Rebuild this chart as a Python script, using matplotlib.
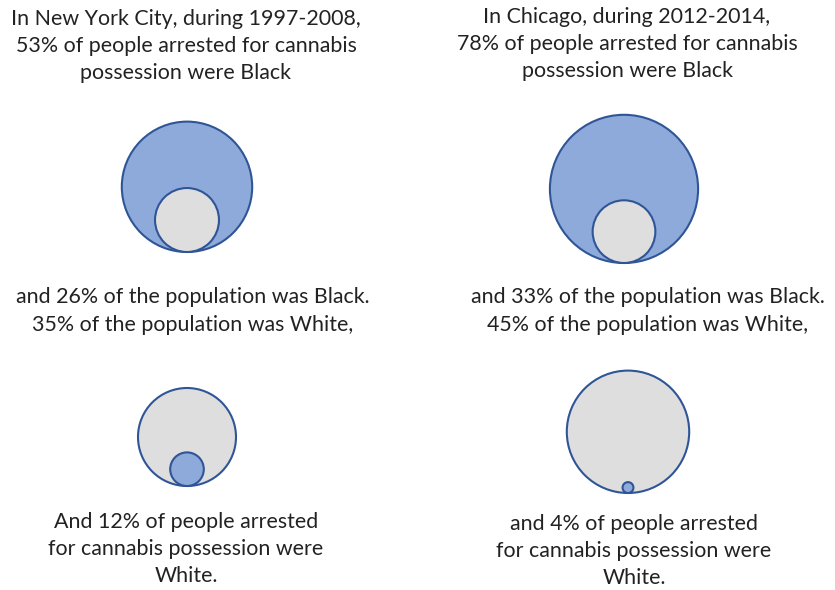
import matplotlib.pyplot as plt
from matplotlib.patches import Circle

plt.rcParams['font.family'] = ['Lato', 'DejaVu Sans']

# percentages shown in each panel: (outer circle, inner circle)
cities = ["New York City", "Chicago"]
black_arrested = [53, 78]
black_population = [26, 33]
white_population = [35, 45]
white_arrested = [12, 4]

titles = [
    "In New York City, during 1997-2008,\n53% of people arrested for cannabis\npossession were Black",
    "In Chicago, during 2012-2014,\n78% of people arrested for cannabis\npossession were Black",
]
middles = [
    "and 26% of the population was Black.\n35% of the population was White,",
    "and 33% of the population was Black.\n45% of the population was White,",
]
bottoms = [
    "And 12% of people arrested\nfor cannabis possession were\nWhite.",
    "and 4% of people arrested\nfor cannabis possession were\nWhite.",
]

BLUE = "#8eaadb"
GRAY = "#dedede"
EDGE = "#2f5597"

fig = plt.figure(figsize=(8.35, 5.9), dpi=100)
ax = fig.add_axes([0, 0, 1, 1])
ax.set_xlim(0, 835)
ax.set_ylim(590, 0)
ax.axis("off")

# layout: circle bottom point (x, y) and pixels per percent for each panel
top_anchor = [(187, 252), (624, 263)]
top_scale = [1.23, 0.95]
bot_anchor = [(187, 486), (628, 493)]
bot_scale = [1.40, 1.36]


def nested(anchor, scale, outer, inner, outer_col, inner_col):
    x, yb = anchor
    R = outer * scale
    r = inner * scale
    ax.add_patch(Circle((x, yb - R), R, facecolor=outer_col, edgecolor=EDGE, lw=1.5))
    ax.add_patch(Circle((x, yb - r), r, facecolor=inner_col, edgecolor=EDGE, lw=1.5))


for i in range(2):
    nested(top_anchor[i], top_scale[i], black_arrested[i], black_population[i], BLUE, GRAY)
    nested(bot_anchor[i], bot_scale[i], white_population[i], white_arrested[i], GRAY, BLUE)

title_pos = [(186, 46), (627, 44)]
mid_pos = [(193, 311), (648, 311)]
bot_pos = [(186, 549), (634, 551)]
for i in range(2):
    for (x, y), s in [(title_pos[i], titles[i]), (mid_pos[i], middles[i]), (bot_pos[i], bottoms[i])]:
        ax.text(x, y, s, ha="center", va="center", multialignment="center",
                fontsize=15.4, linespacing=1.45, color="#222222")

fig.savefig("out.png", dpi=100)
